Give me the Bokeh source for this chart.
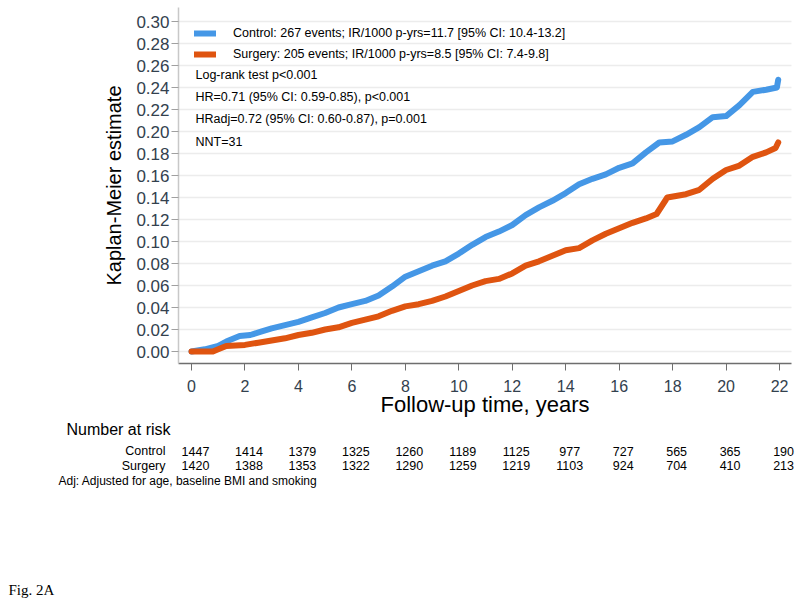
from bokeh.plotting import figure
from bokeh.models import (Range1d, Label, LabelSet, ColumnDataSource, Legend, LegendItem,
                          FixedTicker, NumeralTickFormatter)
from bokeh.core.properties import value
from bokeh.embed import file_html
from bokeh.resources import INLINE

# ---------------- data ----------------
ctrl_t = [0.0, 0.5, 1.0, 1.3, 1.8, 2.2, 2.6, 3.0, 3.5, 4.0, 4.5, 5.0, 5.5, 6.0, 6.5, 7.0, 7.5, 8.0,
          8.5, 9.0, 9.5, 10.0, 10.5, 11.0, 11.5, 12.0, 12.5, 13.0, 13.5, 14.0, 14.5, 15.0, 15.5,
          16.0, 16.5, 17.0, 17.5, 18.0, 18.5, 19.0, 19.5, 20.0, 20.5, 21.0, 21.5, 21.9, 21.95]
ctrl_v = [0.000, 0.002, 0.005, 0.009, 0.014, 0.015, 0.018, 0.021, 0.024, 0.027, 0.031, 0.035,
          0.040, 0.043, 0.046, 0.051, 0.059, 0.068, 0.073, 0.078, 0.082, 0.089, 0.097, 0.104,
          0.109, 0.115, 0.124, 0.131, 0.137, 0.144, 0.152, 0.157, 0.161, 0.167, 0.171, 0.181,
          0.190, 0.191, 0.197, 0.204, 0.213, 0.214, 0.224, 0.236, 0.238, 0.240, 0.247]

surg_t = [0.0, 0.8, 1.0, 1.3, 2.0, 2.5, 3.0, 3.5, 4.0, 4.5, 5.0, 5.5, 6.0, 6.5, 7.0, 7.5, 8.0,
          8.5, 9.0, 9.5, 10.0, 10.5, 11.0, 11.5, 12.0, 12.5, 13.0, 13.5, 14.0, 14.5, 15.0, 15.5,
          16.0, 16.5, 17.0, 17.4, 17.8, 18.5, 19.0, 19.5, 20.0, 20.5, 21.0, 21.5, 21.85, 21.95]
surg_v = [0.000, 0.000, 0.002, 0.005, 0.006, 0.008, 0.010, 0.012, 0.015, 0.017, 0.020, 0.022,
          0.026, 0.029, 0.032, 0.037, 0.041, 0.043, 0.046, 0.050, 0.055, 0.060, 0.064, 0.066,
          0.071, 0.078, 0.082, 0.087, 0.092, 0.094, 0.101, 0.107, 0.112, 0.117, 0.121, 0.125,
          0.140, 0.143, 0.147, 0.157, 0.165, 0.169, 0.177, 0.181, 0.185, 0.190]

y_ticks = [0.00, 0.02, 0.04, 0.06, 0.08, 0.10, 0.12, 0.14, 0.16, 0.18, 0.20, 0.22, 0.24, 0.26, 0.28, 0.30]
x_ticks = [0, 2, 4, 6, 8, 10, 12, 14, 16, 18, 20, 22]

risk_times = [0, 2, 4, 6, 8, 10, 12, 14, 16, 18, 20, 22]
risk_control = [1447, 1414, 1379, 1325, 1260, 1189, 1125, 977, 727, 565, 365, 190]
risk_surgery = [1420, 1388, 1353, 1322, 1290, 1259, 1219, 1103, 924, 704, 410, 213]

legend_labels = ["Control: 267 events; IR/1000 p-yrs=11.7 [95% CI: 10.4-13.2]",
                 "Surgery: 205 events; IR/1000 p-yrs=8.5 [95% CI: 7.4-9.8]"]
stats_lines = ["Log-rank test p<0.001",
               "HR=0.71 (95% CI: 0.59-0.85), p<0.001",
               "HRadj=0.72 (95% CI: 0.60-0.87), p=0.001",
               "NNT=31"]

# ---------------- layout helpers (page pixel -> data) ----------------
W, H = 800, 605
PX0, PXS = 191.0, 26.73      # page x of t=0, pixels per year
PY0, PYS = 351.0, 1100.0     # page y of 0.00, pixels per unit


def X(px):
    return (px - PX0) / PXS


def Y(py):
    return (PY0 - py) / PYS


FONT = "Liberation Sans"
BLUE = "#4597e6"
ORANGE = "#df5410"
TICKCOL = "#33414e"

FR_L, FR_R, FR_T, FR_B = 178, 791, 7, 363   # plotting area in page pixels

# frame covers the whole canvas; axes are pinned to the plotting area
p = figure(width=W, height=H, output_backend="svg", toolbar_location=None,
           x_range=Range1d(X(0), X(W)), y_range=Range1d(Y(H), Y(0)),
           min_border_left=0, min_border_right=0, min_border_top=0, min_border_bottom=0)
p.outline_line_color = None
p.background_fill_color = "white"
p.border_fill_color = "white"

p.xgrid.grid_line_color = None
p.ygrid.grid_line_color = "#ececec"
p.ygrid.grid_line_width = 1.5
p.ygrid.cross_bounds = (X(FR_L), X(FR_R))

p.yaxis.ticker = FixedTicker(ticks=y_ticks)
p.yaxis.formatter = NumeralTickFormatter(format="0.00")
p.xaxis.ticker = FixedTicker(ticks=x_ticks)
p.xaxis.fixed_location = Y(FR_B)
p.yaxis.fixed_location = X(FR_L)
p.xaxis.bounds = (X(FR_L), X(FR_R))
p.yaxis.bounds = (Y(FR_B), Y(FR_T))

for ax in (p.xaxis[0], p.yaxis[0]):
    ax.minor_tick_line_color = None
    ax.major_tick_in = 0
    ax.major_tick_out = 7
    ax.major_label_text_font = FONT
    ax.major_label_text_color = TICKCOL
    ax.axis_label_text_font = FONT
    ax.axis_label_text_font_style = "normal"
    ax.axis_label_text_color = "black"

p.yaxis.axis_line_color = "#c8c8c8"
p.yaxis.axis_line_width = 1.5
p.yaxis.major_tick_line_color = "#a0a0a0"
p.yaxis.major_label_text_font_size = "17px"
p.yaxis.major_label_standoff = 2
p.yaxis.axis_label = "Kaplan-Meier estimate"
p.yaxis.axis_label_text_font_size = "20px"
p.yaxis.axis_label_standoff = 8

p.xaxis.axis_line_color = "#6e6e6e"
p.xaxis.axis_line_width = 1.5
p.xaxis.major_tick_line_color = "#6e6e6e"
p.xaxis.major_label_text_font_size = "16px"
p.xaxis.major_label_standoff = 9
p.xaxis.axis_label = "Follow-up time, years"
p.xaxis.axis_label_text_font_size = "22px"
p.xaxis.axis_label_standoff = -3

r_ctrl = p.line(ctrl_t, ctrl_v, line_width=6, line_color=BLUE, line_join="round", line_cap="round")
r_surg = p.line(surg_t, surg_v, line_width=6, line_color=ORANGE, line_join="round", line_cap="round")

legend = Legend(items=[LegendItem(label=legend_labels[0], renderers=[r_ctrl]),
                       LegendItem(label=legend_labels[1], renderers=[r_surg])],
                location=(194, H - 62), glyph_width=22, glyph_height=16, label_height=16,
                label_standoff=17, spacing=5, padding=0, margin=0,
                background_fill_alpha=0, border_line_alpha=0,
                label_text_font=FONT, label_text_font_size="12.5px", label_text_color="black")
p.add_layout(legend)

for i, s in enumerate(stats_lines):
    p.add_layout(Label(x=X(195), y=Y(74.5 + 22.2 * i), text=s, text_font=FONT,
                       text_font_size="12.5px", text_color="black", text_baseline="alphabetic"))

# ---------------- number-at-risk table ----------------
p.add_layout(Label(x=X(66), y=Y(429), text="Number at risk", text_font=FONT,
                   text_font_size="16px", text_color="black", text_baseline="alphabetic"))
for name, yy in (("Control", 450.5), ("Surgery", 465)):
    p.add_layout(Label(x=X(165), y=Y(yy), text=name, text_font=FONT, text_font_size="12.5px",
                       text_color="black", text_align="right", text_baseline="alphabetic"))

src = ColumnDataSource(dict(t=risk_times,
                            c=[str(v) for v in risk_control],
                            s=[str(v) for v in risk_surgery]))
for col, yy in (("c", 455), ("s", 469.5)):
    p.add_layout(LabelSet(x="t", y=Y(yy), text=col, source=src, x_offset=4,
                          text_font=value(FONT), text_font_size=value("12.5px"),
                          text_color="black", text_align="center", text_baseline="alphabetic"))

p.add_layout(Label(x=X(58), y=Y(480.5), text="Adj: Adjusted for age, baseline BMI and smoking",
                   text_font=FONT, text_font_size="12px", text_color="black",
                   text_baseline="alphabetic"))
p.add_layout(Label(x=X(8), y=Y(589), text="Fig. 2A", text_font="Liberation Serif",
                   text_font_size="15px", text_color="black", text_baseline="alphabetic"))

open("out.html", "w").write(file_html(p, INLINE))
